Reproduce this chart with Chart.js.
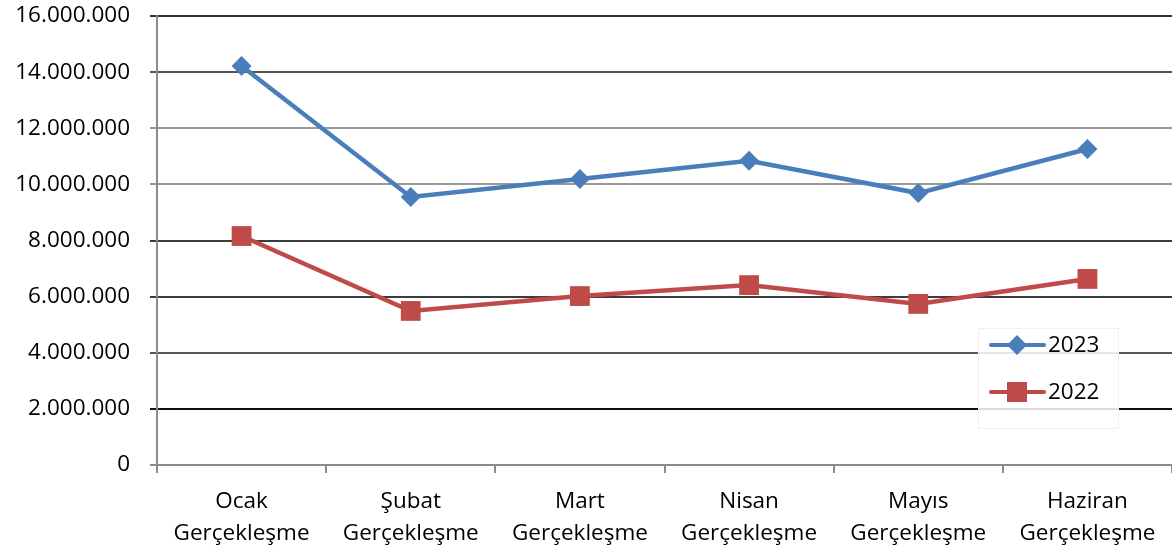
<!DOCTYPE html>
<html>
<head>
<meta charset="utf-8">
<script src="https://cdn.jsdelivr.net/npm/chart.js@4.4.1/dist/chart.umd.min.js"></script>
<style>
  html, body { margin: 0; padding: 0; background: #fff; overflow: hidden; }
  #wrap { width: 1172px; height: 550px; position: relative; }
</style>
</head>
<body>
<div id="wrap"><canvas id="chart"></canvas></div>
<script>
// Chart data
const months = [
    ['Ocak', 'Gerçekleşme'],
    ['Şubat', 'Gerçekleşme'],
    ['Mart', 'Gerçekleşme'],
    ['Nisan', 'Gerçekleşme'],
    ['Mayıs', 'Gerçekleşme'],
    ['Haziran', 'Gerçekleşme']
];
const values2023 = [14220000, 9550000, 10190000, 10840000, 9690000, 11260000];
const values2022 = [8160000, 5490000, 6020000, 6410000, 5740000, 6630000];
const yTicks = [0, 2000000, 4000000, 6000000, 8000000, 10000000, 12000000, 14000000, 16000000];

// Gridline colours, bottom to top
const gridColors = ['#8c8c8c', '#111111', '#555555', '#3c3c3c', '#3c3c3c', '#9a9a9a', '#9a9a9a', '#555555', '#333333'];

const FONT = '"Open Sans", "Liberation Sans", sans-serif';
const FONT_SIZE = 22.5;

function formatNumber(v) {
    return String(v).replace(/\B(?=(\d{3})+(?!\d))/g, '.');
}

// Legend drawn inside the plot area
const insideLegend = {
    id: 'insideLegend',
    afterDraw(chart) {
        const ctx = chart.ctx;
        ctx.save();
        ctx.fillStyle = 'rgba(255,255,255,0.85)';
        ctx.fillRect(978, 328, 140, 100);
        ctx.strokeStyle = '#f0f0f0';
        ctx.lineWidth = 1;
        ctx.strokeRect(978.5, 328.5, 140, 100);
        const rows = [345, 392];
        chart.data.datasets.forEach((ds, i) => {
            const y = rows[i];
            ctx.strokeStyle = ds.borderColor;
            ctx.lineWidth = 4;
            ctx.lineCap = 'round';
            ctx.beginPath();
            ctx.moveTo(991, y);
            ctx.lineTo(1044, y);
            ctx.stroke();
            ctx.fillStyle = ds.borderColor;
            if (ds.pointStyle === 'rect') {
                ctx.fillRect(1007, y - 10, 20, 20);
            } else {
                ctx.beginPath();
                ctx.moveTo(1017, y - 10);
                ctx.lineTo(1027, y);
                ctx.lineTo(1017, y + 10);
                ctx.lineTo(1007, y);
                ctx.closePath();
                ctx.fill();
            }
            ctx.fillStyle = '#000';
            ctx.font = FONT_SIZE + 'px ' + FONT;
            ctx.textBaseline = 'middle';
            ctx.fillText(ds.label, 1048, y + 1);
        });
        ctx.restore();
    }
};

new Chart(document.getElementById('chart'), {
    type: 'line',
    data: {
        labels: months,
        datasets: [
            {
                label: '2023',
                data: values2023,
                borderColor: '#4A7EBB',
                backgroundColor: '#4A7EBB',
                borderWidth: 4.5,
                pointStyle: 'rectRot',
                pointRadius: 10,
                pointBorderWidth: 0,
                tension: 0
            },
            {
                label: '2022',
                data: values2022,
                borderColor: '#BE4B48',
                backgroundColor: '#BE4B48',
                borderWidth: 4.5,
                pointStyle: 'rect',
                pointRadius: 14,
                pointBorderWidth: 0,
                tension: 0
            }
        ]
    },
    options: {
        responsive: true,
        maintainAspectRatio: false,
        animation: false,
        layout: { padding: 0, autoPadding: false },
        plugins: {
            legend: { display: false },
            tooltip: { enabled: false }
        },
        scales: {
            x: {
                offset: true,
                afterFit(scale) {
                    scale.height = 85;
                    scale.paddingLeft = 0;
                    scale.paddingRight = 0;
                },
                grid: {
                    offset: true,
                    drawOnChartArea: false,
                    drawTicks: true,
                    tickLength: 8,
                    color: '#8c8c8c',
                    lineWidth: 2
                },
                border: { display: true, color: '#8c8c8c', width: 2 },
                ticks: {
                    color: '#000',
                    font: { family: FONT, size: FONT_SIZE, lineHeight: 1.45 },
                    padding: 12,
                    maxRotation: 0,
                    autoSkip: false
                }
            },
            y: {
                min: 0,
                max: 16000000,
                afterFit(scale) {
                    scale.width = 157;
                    scale.paddingTop = 16;
                    scale.paddingBottom = 0;
                },
                afterBuildTicks(scale) { scale.ticks = yTicks.map(v => ({ value: v })); },
                grid: {
                    color: ctx => gridColors[ctx.index] || '#888',
                    lineWidth: 2,
                    tickLength: 7,
                    drawTicks: true
                },
                border: { display: true, color: '#8c8c8c', width: 2 },
                ticks: {
                    color: '#000',
                    font: { family: FONT, size: FONT_SIZE },
                    padding: 20,
                    callback: v => formatNumber(v)
                }
            }
        }
    },
    plugins: [insideLegend]
});
</script>
</body>
</html>
